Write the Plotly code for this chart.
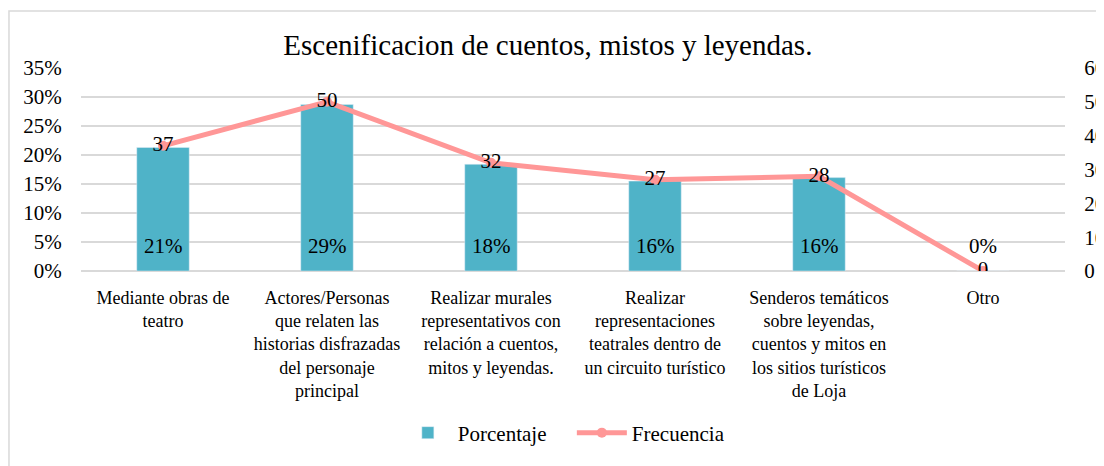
import plotly.graph_objects as go

categorias = [
    "Mediante obras de<br>teatro",
    "Actores/Personas<br>que relaten las<br>historias disfrazadas<br>del personaje<br>principal",
    "Realizar murales<br>representativos con<br>relación a cuentos,<br>mitos y leyendas.",
    "Realizar<br>representaciones<br>teatrales dentro de<br>un circuito turístico",
    "Senderos temáticos<br>sobre leyendas,<br>cuentos y mitos en<br>los sitios turísticos<br>de Loja",
    "Otro",
]
porcentaje = [21.3, 28.7, 18.4, 15.5, 16.1, 0]
porcentaje_txt = ["21%", "29%", "18%", "16%", "16%", "0%"]
frecuencia = [37, 50, 32, 27, 28, 0]

pct_ticks = [0, 5, 10, 15, 20, 25, 30, 35]
pct_labels = ["0%", "5%", "10%", "15%", "20%", "25%", "30%", "35%"]
frec_ticks = [0, 10, 20, 30, 40, 50, 60]

FONT = "Liberation Serif, Times New Roman, serif"
BAR = "#4FB3C8"
LINE = "#FF9797"

fig = go.Figure()

fig.add_trace(go.Bar(
    x=categorias, y=porcentaje, name="Porcentaje",
    marker_color=BAR, width=0.32,
))

fig.add_trace(go.Scatter(
    x=categorias, y=frecuencia, name="Frecuencia", yaxis="y2",
    mode="lines+markers+text", text=[str(v) for v in frecuencia],
    textposition="middle center", textfont=dict(size=21, color="black", family=FONT),
    line=dict(color=LINE, width=5), marker=dict(color=LINE, size=10),
))

# bar labels sit near the base of each bar
for c, t in zip(categorias, porcentaje_txt):
    fig.add_annotation(x=c, y=0, text=t, showarrow=False, yanchor="middle",
                       yshift=25, font=dict(size=21, color="black", family=FONT))

# chart frame (left/top edges visible, rest runs off the picture)
fig.add_shape(type="rect", xref="paper", yref="paper",
              x0=-0.0732, x1=1.2, y0=-1.2, y1=1.2808,
              line=dict(color="#D9D9D9", width=1.5), layer="below")

fig.update_layout(
    width=1104, height=466,
    margin=dict(l=73, r=47, t=60, b=203),
    paper_bgcolor="white", plot_bgcolor="white",
    font=dict(family=FONT, color="black"),
    title=dict(text="Escenificacion de cuentos, mistos y leyendas.",
               x=0.489, xanchor="center", y=0.921, yanchor="middle",
               font=dict(size=29, family=FONT, color="black")),
    bargap=0.68,
    showlegend=True,
    legend=dict(orientation="h", x=0.322, xanchor="left", y=-0.798, yanchor="middle",
                font=dict(size=21, family=FONT), itemwidth=50,
                entrywidth=109, entrywidthmode="pixels"),
    xaxis=dict(tickfont=dict(size=18, family=FONT), showgrid=False, automargin=False,
               showline=False, ticks="outside", ticklen=10, tickcolor="rgba(0,0,0,0)"),
    yaxis=dict(range=[0, 35], tickvals=pct_ticks, ticktext=pct_labels, automargin=False,
               tickfont=dict(size=21, family=FONT), gridcolor="#D9D9D9", gridwidth=1.5,
               zeroline=True, zerolinecolor="#D9D9D9", zerolinewidth=1.5,
               ticks="outside", ticklen=14, tickcolor="rgba(0,0,0,0)"),
    yaxis2=dict(range=[0, 60], tickvals=frec_ticks, overlaying="y", side="right",
                tickfont=dict(size=21, family=FONT), showgrid=False, zeroline=False,
                automargin=False,
                ticks="outside", ticklen=14, tickcolor="rgba(0,0,0,0)"),
)

fig.write_html("out.html")
